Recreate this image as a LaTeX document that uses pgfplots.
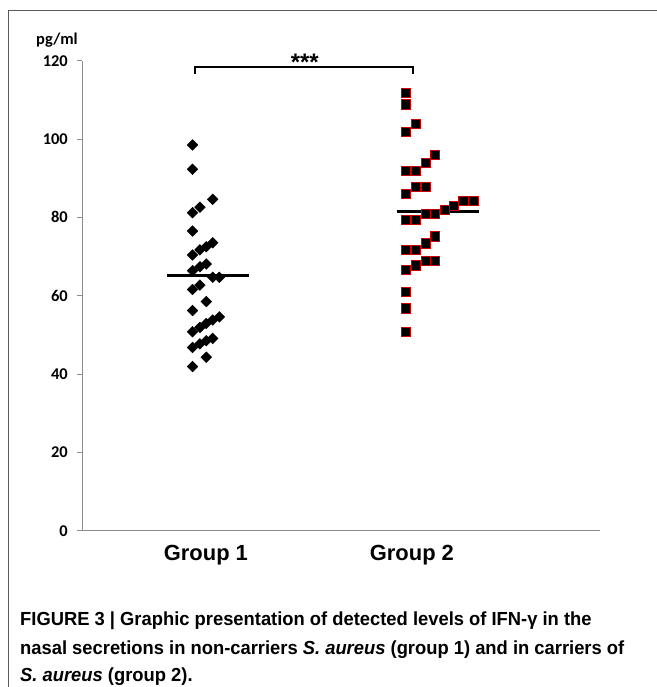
\documentclass[border=0pt]{standalone}
\usepackage{pgfplots}
\pgfplotsset{compat=1.18}
\usepackage{fontspec}
\setmainfont{Liberation Sans}
\newfontfamily\carlito{Carlito}
\newfontfamily\capfont[FakeStretch=0.97]{Liberation Sans}

\begin{document}
\begin{tikzpicture}[x=1bp,y=1bp]
\useasboundingbox (0,0) rectangle (657,-687);
\draw[line width=1.3bp, black!65] (8.5,-687) -- (8.5,-10.5) -- (657,-10.5);
\begin{axis}[
  at={(82.3bp,-530.7bp)}, anchor=south west,
  scale only axis, width=517.7bp, height=470bp,
  xmin=0.4, xmax=2.913, ymin=0, ymax=120,
  axis x line=bottom, axis y line=left,
  axis line style={-, draw=black!45, line width=1bp},
  ytick={0,20,...,120},
  xtick={1,2}, xticklabels={Group 1, Group 2},
  tick align=outside, major tick length=5bp,
  ytick style={draw=black!45, line width=0.8bp},
  xtick style={draw=none},
  /pgf/number format/assume math mode=true,
  yticklabel style={font=\carlito\bfseries\fontsize{16.5}{18}\selectfont, xshift=-6bp},
  xticklabel style={font=\bfseries\fontsize{22}{24}\selectfont, yshift=-6bp},
  clip=false,
]
% group 1
\addplot[only marks, mark=square*, mark size=3.8bp,
  mark options={rotate=45, fill=black, draw=black}] coordinates {
(0.935,98.5) (0.935,92.3) (1.033,84.6) (0.971,82.6) (0.935,81.2)
(0.935,76.5) (1.033,73.5) (1.002,72.5) (0.971,71.7) (0.935,70.4)
(1.002,68.1) (0.971,67.4) (0.935,66.4) (1.033,64.7) (1.065,64.7)
(0.971,62.7) (0.935,61.6) (1.002,58.5) (0.935,56.2) (1.065,54.6)
(1.033,53.8) (1.002,52.9) (0.971,51.9) (0.935,50.8) (1.033,49.1)
(1.002,48.5) (0.971,47.7) (0.935,46.8) (1.002,44.3) (0.935,41.9)
};
% group 2
\addplot[only marks, mark=square*, mark size=4.6bp,
  mark options={fill=black, draw=red!80!black, line width=0.5bp}] coordinates {
(1.971,111.8) (1.971,108.9) (2.019,104.0) (1.971,101.9) (2.112,95.9)
(2.068,94.0) (2.019,91.9) (1.971,91.9) (2.019,87.8) (2.068,87.8)
(1.971,86.0) (2.249,84.2) (2.298,84.2) (2.204,82.9) (2.160,82.0)
(2.112,81.0) (2.068,81.0) (1.971,79.3) (2.019,79.3) (2.112,75.2)
(2.068,73.4) (1.971,71.8) (2.019,71.8) (2.068,68.9) (2.112,68.9)
(2.019,67.8) (1.971,66.7) (1.971,61.0) (1.971,56.8) (1.971,50.8)
};
% mean lines
\addplot[black, line width=2.8bp] coordinates {(0.809,65.2) (1.209,65.2)};
\addplot[black, line width=2.8bp] coordinates {(1.926,81.4) (2.325,81.4)};
% significance bracket
\addplot[black, line width=2.2bp] coordinates {(0.947,116.6) (0.947,118.3) (2.006,118.3) (2.006,116.6)};
\node[font=\bfseries\fontsize{24}{26}\selectfont] at (axis cs:1.48,119.6) {***};
\end{axis}
\node[font=\carlito\bfseries\fontsize{16.5}{18}\selectfont] at (57,-40) {pg/ml};
\begin{scope}[every node/.style={anchor=base west, inner sep=0pt, font=\capfont\bfseries\fontsize{19}{21}\selectfont}]
\node at (20,-625) {FIGURE 3 | Graphic presentation of detected levels of IFN-γ in the};
\node at (20,-654) {nasal secretions in non-carriers \textit{S. aureus} (group 1) and in carriers of};
\node at (20,-681) {\textit{S. aureus} (group 2).};
\end{scope}
\end{tikzpicture}
\end{document}
